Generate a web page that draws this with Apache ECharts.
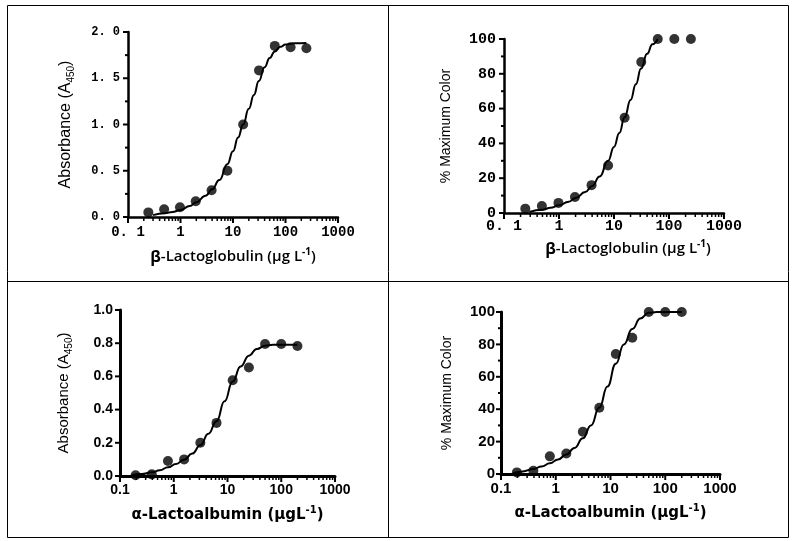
<!DOCTYPE html>
<html><head><meta charset="utf-8">
<script src="https://cdn.jsdelivr.net/npm/echarts@6/dist/echarts.min.js"></script>
<style>html,body{margin:0;padding:0;background:#fff}#c{width:794px;height:541px}</style>
</head><body><div id="c"></div>
<script>
// ---- shared tick data ----
const xMajorTicks = [0.1, 1, 10, 100, 1000];
const xMinorTicks = [0.2,0.3,0.4,0.5,0.6,0.7,0.8,0.9,2,3,4,5,6,7,8,9,20,30,40,50,60,70,80,90,200,300,400,500,600,700,800,900];
const xLabelsMono = ['0. 1', '1', '10', '100', '1000'];
const xLabelsSans = ['0.1', '1', '10', '100', '1000'];
const yTicksA = [0, 0.5, 1, 1.5, 2];
const yMinorA = [0.25, 0.75, 1.25, 1.75];
const yLabelsA = ['0. 0', '0. 5', '1. 0', '1. 5', '2. 0'];
const yTicksPct = [0, 20, 40, 60, 80, 100];
const yMinorPct = [10, 30, 50, 70, 90];
const yLabelsB = ['0', '20', '40', '60', '80', '100'];
const yTicksC = [0, 0.2, 0.4, 0.6, 0.8, 1.0];
const yMinorC = [];
const yLabelsC = ['0.0', '0.2', '0.4', '0.6', '0.8', '1.0'];
const yLabelsD = ['0', '20', '40', '60', '80', '100'];

// ---- Panel A: beta-lactoglobulin, absorbance ----
const concBLG = [0.244, 0.488, 0.977, 1.95, 3.91, 7.81, 15.6, 31.3, 62.5, 125, 250];
const absBLG = [0.05, 0.083, 0.105, 0.17, 0.29, 0.50, 1.0, 1.585, 1.85, 1.835, 1.825];
const fitXBLG = [0.3, 0.5, 0.7, 1, 1.5, 2, 3, 4, 5.5, 7.8, 10, 12.5, 15.6, 20, 25, 31, 40, 50, 62.5, 80, 100, 150, 250];
const fitAbsBLG = [0.02, 0.04, 0.055, 0.075, 0.12, 0.16, 0.23, 0.30, 0.40, 0.57, 0.71, 0.86, 1.0, 1.17, 1.32, 1.47, 1.62, 1.72, 1.79, 1.84, 1.865, 1.878, 1.88];

// ---- Panel B: beta-lactoglobulin, % max colour ----
const pctBLG = [2.5, 4.0, 5.8, 9.2, 16, 27.3, 54.7, 86.8, 100, 100, 100];
const fitXBLGpct = [0.29, 0.5, 0.7, 1, 1.5, 2, 3, 4, 5.5, 7.8, 10, 12.5, 15.6, 20, 25, 31, 40, 50, 62.5];
const fitPctBLG = [0.6, 1.9, 3.0, 4.4, 6.5, 8.6, 12, 15.5, 21, 30, 38, 46, 55, 65, 74, 83, 91.5, 97, 100];

// ---- Panel C: alpha-lactalbumin, absorbance ----
const concALA = [0.195, 0.39, 0.78, 1.56, 3.125, 6.25, 12.5, 25, 50, 100, 200];
const absALA = [0.004, 0.01, 0.09, 0.10, 0.20, 0.32, 0.577, 0.654, 0.795, 0.795, 0.783];
const fitXALA = [0.165, 0.25, 0.39, 0.55, 0.78, 1.1, 1.56, 2.2, 3.125, 4.4, 6.25, 8.8, 12.5, 17.5, 25, 35, 50, 70, 100, 200];
const fitAbsALA = [0.004, 0.012, 0.022, 0.035, 0.052, 0.072, 0.098, 0.135, 0.185, 0.255, 0.33, 0.45, 0.57, 0.66, 0.725, 0.765, 0.785, 0.79, 0.79, 0.79];

// ---- Panel D: alpha-lactalbumin, % max colour ----
const pctALA = [1.0, 2.0, 10.9, 12.7, 26.1, 40.9, 74.1, 84.1, 100, 100, 100];
const fitXALApct = [0.168, 0.25, 0.39, 0.55, 0.78, 1.1, 1.56, 2.2, 3.125, 4.4, 6.25, 8.8, 12.5, 17.5, 25, 35, 50, 70, 200];
const fitPctALA = [0.6, 1.6, 3.1, 4.6, 6.6, 9, 12, 16, 22, 30, 41, 54, 68, 80, 89.5, 96, 99.5, 100, 100];

const zip = (a, b) => a.map((v, i) => [v, b[i]]);

const chart = echarts.init(document.getElementById('c'), null, {renderer: 'canvas'});

const grids = [
  {left: 128, top: 32, width: 210, height: 185},
  {left: 504, top: 39, width: 220, height: 174},
  {left: 120, top: 310, width: 215, height: 166},
  {left: 501, top: 312, width: 219, height: 162}
];

const panels = [
  {xLabels: xLabelsMono, xFont: {fontFamily: 'Liberation Mono', fontWeight: 'bold', fontSize: 14}, xMargin: 8,
   yLabels: yLabelsA, yTicks: yTicksA, yMinor: yMinorA, yMax: 2, yInt: 0.5,
   yFont: {fontFamily: 'Liberation Mono', fontWeight: 'bold', fontSize: 12}, yMargin: 8,
   xName: '{b|β}{t|-Lactoglobulin (µg L}{p|-1}{t|)}', xGap: 30, titleKind: 'top',
   yName: '{t|Absorbance (A}{s|450}{t|)}', yGap: 52, yFontSize: 16,
   pts: zip(concBLG, absBLG), fit: zip(fitXBLG, fitAbsBLG), axisW: 2.5},
  {xLabels: xLabelsMono, xFont: {fontFamily: 'Liberation Mono', fontWeight: 'bold', fontSize: 15}, xMargin: 6,
   yLabels: yLabelsB, yTicks: yTicksPct, yMinor: yMinorPct, yMax: 100, yInt: 20,
   yFont: {fontFamily: 'Liberation Mono', fontWeight: 'bold', fontSize: 15}, yMargin: 8,
   xName: '{g|}{b|β}{t|-Lactoglobulin (µg L}{p|-1}{t|)}', xGap: 26, titleKind: 'top',
   yName: '{t|% Maximum Color}', yGap: 48, yFontSize: 14,
   pts: zip(concBLG, pctBLG), fit: zip(fitXBLGpct, fitPctBLG), axisW: 2.5},
  {xLabels: xLabelsSans, xFont: {fontFamily: 'Liberation Sans', fontWeight: 'bold', fontSize: 14}, xMargin: 7,
   yLabels: yLabelsC, yTicks: yTicksC, yMinor: yMinorC, yMax: 1, yInt: 0.2,
   yFont: {fontFamily: 'Liberation Sans', fontWeight: 'bold', fontSize: 14}, yMargin: 7,
   xName: '{b|α}{t|-Lactoalbumin (µgL}{p|-1}{t|)}', xGap: 29, titleKind: 'bottom',
   yName: '{t|Absorbance (A}{s|450}{t|)}', yGap: 46, yFontSize: 15,
   pts: zip(concALA, absALA), fit: zip(fitXALA, fitAbsALA), axisW: 3},
  {xLabels: xLabelsSans, xFont: {fontFamily: 'Liberation Sans', fontWeight: 'bold', fontSize: 15}, xMargin: 7,
   yLabels: yLabelsD, yTicks: yTicksPct, yMinor: yMinorPct, yMax: 100, yInt: 20,
   yFont: {fontFamily: 'Liberation Sans', fontWeight: 'bold', fontSize: 15}, yMargin: 6,
   xName: '{b|α}{t|-Lactoalbumin (µgL}{p|-1}{t|)}', xGap: 29, titleKind: 'bottom',
   yName: '{t|% Maximum Color}', yGap: 44, yFontSize: 14,
   pts: zip(concALA, pctALA), fit: zip(fitXALApct, fitPctALA), axisW: 3}
];

// tick marks drawn through the axes' own coordinate mapping
function xTickRender(params, api) {
  const p = api.coord([api.value(0), api.value(1)]);
  const len = api.value(2);
  return {type: 'line', shape: {x1: p[0], y1: p[1], x2: p[0], y2: p[1] + len},
          style: {stroke: '#000', lineWidth: len > 5 ? 2 : 1.5}};
}
function yTickRender(params, api) {
  const p = api.coord([api.value(0), api.value(1)]);
  const len = api.value(2);
  return {type: 'line', shape: {x1: p[0], y1: p[1], x2: p[0] - len, y2: p[1]},
          style: {stroke: '#000', lineWidth: 2}};
}

const xAxes = [], yAxes = [], series = [];
panels.forEach((p, i) => {
  const titleRich = p.titleKind === 'top'
    ? {b: {fontFamily: 'Open Sans', fontWeight: 'bold', fontSize: 16, lineHeight: 20, color: '#000'},
       t: {fontFamily: 'Open Sans', fontWeight: 600, fontSize: 15, lineHeight: 20, color: '#000'},
       p: {fontFamily: 'Open Sans', fontWeight: 'bold', fontSize: 10, lineHeight: 10, verticalAlign: 'top', color: '#000'},
       g: {width: 28}}
    : {b: {fontFamily: 'DejaVu Sans', fontWeight: 'bold', fontSize: 15, lineHeight: 20, color: '#000'},
       t: {fontFamily: 'DejaVu Sans', fontWeight: 'bold', fontSize: 15, lineHeight: 20, color: '#000'},
       p: {fontFamily: 'DejaVu Sans', fontWeight: 'bold', fontSize: 10, lineHeight: 10, verticalAlign: 'top', color: '#000'}};
  xAxes.push({
    type: 'log', gridIndex: i, min: 0.1, max: 1000, position: 'bottom',
    axisLine: {show: true, lineStyle: {color: '#000', width: p.axisW}},
    axisTick: {show: false},
    axisLabel: Object.assign({color: '#000', margin: p.xMargin,
      formatter: v => p.xLabels[Math.round(Math.log10(v)) + 1]}, p.xFont),
    splitLine: {show: false},
    name: p.xName, nameLocation: 'middle', nameGap: p.xGap,
    nameTextStyle: {rich: titleRich}
  });
  const yl = p.yLabels;
  yAxes.push({
    type: 'value', gridIndex: i, min: 0, max: p.yMax, interval: p.yInt,
    axisLine: {show: true, onZero: false, lineStyle: {color: '#000', width: p.axisW}},
    axisTick: {show: false}, minorTick: {show: false},
    splitLine: {show: false},
    axisLabel: Object.assign({color: '#000', margin: p.yMargin,
      formatter: v => yl[Math.round(v / p.yInt)]}, p.yFont),
    name: p.yName, nameLocation: 'middle', nameGap: p.yGap, nameRotate: 90,
    nameTextStyle: {rich: {
      t: {fontFamily: 'Liberation Sans', fontSize: p.yFontSize, lineHeight: 20, color: '#000'},
      s: {fontFamily: 'Liberation Sans', fontSize: 10, lineHeight: 10, verticalAlign: 'bottom', color: '#000'}
    }}
  });
  const xTickData = xMajorTicks.map(v => [v, 0, 6]).concat(xMinorTicks.map(v => [v, 0, 4]));
  const yTickData = p.yTicks.map(v => [0.1, v, 5]).concat(p.yMinor.map(v => [0.1, v, 3]));
  series.push({type: 'custom', xAxisIndex: i, yAxisIndex: i, data: xTickData, renderItem: xTickRender,
    clip: false, silent: true, z: 1});
  series.push({type: 'custom', xAxisIndex: i, yAxisIndex: i, data: yTickData, renderItem: yTickRender,
    clip: false, silent: true, z: 1});
  series.push({
    type: 'line', xAxisIndex: i, yAxisIndex: i, data: p.fit,
    smooth: true, smoothMonotone: 'x', showSymbol: false, symbol: 'none',
    lineStyle: {color: '#000', width: 2}, z: 2, silent: true
  });
  series.push({
    type: 'scatter', xAxisIndex: i, yAxisIndex: i, data: p.pts,
    symbol: 'circle', symbolSize: 10, itemStyle: {color: '#000'}, z: 3, silent: true
  });
});

chart.setOption({
  animation: false,
  backgroundColor: '#fff',
  grid: grids,
  xAxis: xAxes,
  yAxis: yAxes,
  series: series,
  graphic: [
    {type: 'rect', shape: {x: 7.5, y: 5.5, width: 781, height: 532}, style: {fill: 'none', stroke: '#000', lineWidth: 1}, silent: true},
    {type: 'line', shape: {x1: 388.5, y1: 5.5, x2: 388.5, y2: 537.5}, style: {stroke: '#000', lineWidth: 1}, silent: true},
    {type: 'line', shape: {x1: 7.5, y1: 281.5, x2: 788.5, y2: 281.5}, style: {stroke: '#000', lineWidth: 1}, silent: true}
  ]
});
</script>
</body></html>
